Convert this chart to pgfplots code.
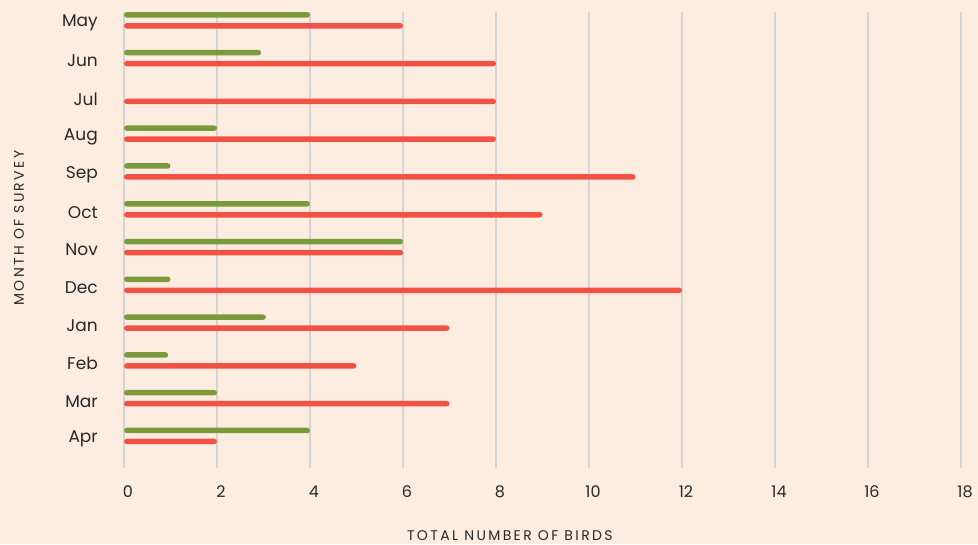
\documentclass[border=0pt]{standalone}
\usepackage{fontspec}
\setmainfont{Poppins}
\usepackage{pgfplots}
\pgfplotsset{compat=1.18}
\definecolor{bgc}{RGB}{253,236,224}
\definecolor{gr}{RGB}{122,154,60}
\definecolor{rd}{RGB}{242,82,70}
\definecolor{gridc}{RGB}{212,212,212}
\definecolor{txt}{RGB}{40,40,40}
\begin{document}
\begin{tikzpicture}
\fill[bgc] (0,0) rectangle (978pt,544pt);
\begin{axis}[
  at={(124pt,76pt)}, anchor=south west,
  scale only axis, width=837pt, height=456pt,
  xmin=0, xmax=18, ymin=-0.847, ymax=11.22,
  xtick={0,2,...,18},
  ytick={0,...,11},
  yticklabels={Apr,Mar,Feb,Jan,Dec,Nov,Oct,Sep,Aug,Jul,Jun,May},
  axis line style={draw=none},
  major tick length=0pt,
  xmajorgrids, ymajorgrids=false,
  grid style={gridc, line width=1.3pt},
  /pgf/number format/assume math mode=true,
  tick label style={font=\fontsize{16}{18}\selectfont, text=txt, inner sep=0pt},
  xticklabel style={anchor=center, yshift=-24pt, xshift=4pt},
  yticklabel style={anchor=east, xshift=-26pt, yshift=-3pt, font=\fontsize{17}{19}\selectfont},
  every axis x label/.style={at={(axis description cs:0.461,-0.149)}, anchor=center,
     font=\addfontfeatures{LetterSpace=17}\fontsize{14}{16}\selectfont, text=txt},
  every axis y label/.style={at={(axis description cs:-0.1255,0.526)}, anchor=center, rotate=90,
     font=\addfontfeatures{LetterSpace=17}\fontsize{14}{16}\selectfont, text=txt},
  xlabel={TOTAL NUMBER OF BIRDS},
  ylabel={MONTH OF SURVEY},
  xbar, bar width=5.5pt,
  clip=false,
]
\addplot[fill=gr, draw=none, rounded corners=2.75pt, bar shift=5.5pt] coordinates {
  (4,0) (2,1) (0.95,2) (3.05,3) (1,4) (6,5) (4,6) (1,7) (2,8) (2.95,10) (4,11)
};
\addplot[fill=rd, draw=none, rounded corners=2.75pt, bar shift=-5.5pt] coordinates {
  (2,0) (7,1) (5,2) (7,3) (12,4) (6,5) (9,6) (11,7) (8,8) (8,9) (8,10) (6,11)
};
\end{axis}
\pgfresetboundingbox
\useasboundingbox (0,0) rectangle (978pt,544pt);
\end{tikzpicture}
\end{document}
